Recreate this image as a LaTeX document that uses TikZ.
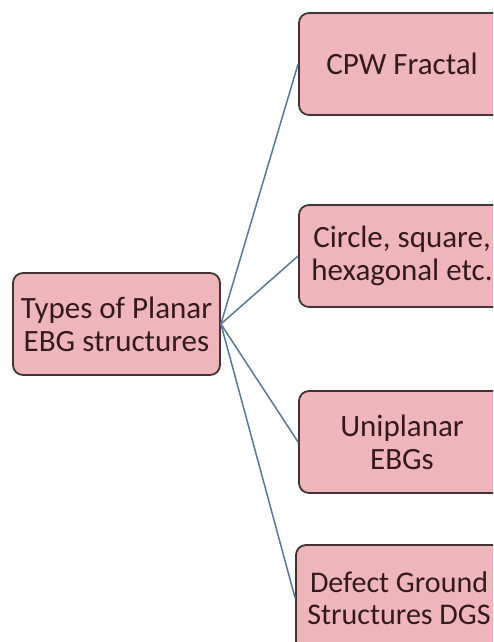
\documentclass[tikz,border=0pt]{standalone}
\usepackage{fontspec}
\setmainfont{Carlito}
\definecolor{boxfill}{RGB}{238,182,186}
\definecolor{boxdraw}{RGB}{66,52,52}
\definecolor{boxtext}{RGB}{52,26,28}
\definecolor{linkcol}{RGB}{88,120,152}
\tikzset{
  ebgbox/.style={draw=boxdraw, fill=boxfill, line width=1.8pt, rounded corners=10pt,
    text=boxtext, align=center, inner sep=0pt,
    font=\fontsize{31}{33}\selectfont},
  link/.style={draw=linkcol, line width=1.5pt}
}
\begin{document}
\begin{tikzpicture}[x=1pt,y=1pt]
\useasboundingbox[fill=white] (0,0) rectangle (493,-642);
\clip (0,0) rectangle (493,-642);
\node[ebgbox, minimum width=207pt, minimum height=102pt] (main) at (116.5,-324) {Types of Planar\\EBG structures};
\node[ebgbox, minimum width=206pt, minimum height=102pt] (cpw) at (402,-64) {CPW Fractal};
\node[ebgbox, minimum width=206pt, minimum height=102pt] (circ) at (402,-256) {Circle, square,\\hexagonal etc.};
\node[ebgbox, minimum width=206pt, minimum height=102pt] (uni) at (402,-442) {Uniplanar\\EBGs};
\node[ebgbox, minimum width=206pt, minimum height=106pt, font=\fontsize{30}{32}\selectfont] (dgs) at (399,-598) {Defect Ground\\Structures DGS};
\draw[link] (main.east) -- (cpw.west);
\draw[link] (main.east) -- (circ.west);
\draw[link] (main.east) -- (uni.west);
\draw[link] (main.east) -- (dgs.west);
\end{tikzpicture}
\end{document}
